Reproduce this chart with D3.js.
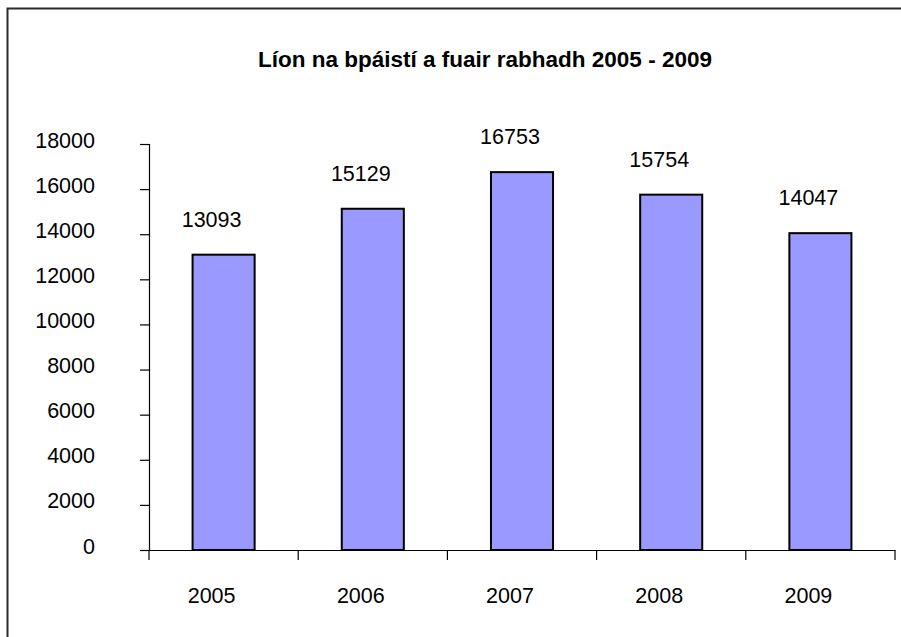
<!DOCTYPE html>
<html>
<head>
<meta charset="utf-8">
<script src="https://cdn.jsdelivr.net/npm/d3@7"></script>
<style>
  html, body { margin: 0; padding: 0; background: #fff; }
  svg { display: block; font-family: "Liberation Sans", Arial, sans-serif; }
</style>
</head>
<body>
<svg id="chart" width="901" height="637"></svg>
<script>
const titleText = "Líon na bpáistí a fuair rabhadh 2005 - 2009";
const years = ["2005", "2006", "2007", "2008", "2009"];
const values = [13093, 15129, 16753, 15754, 14047];
const yTicks = [0, 2000, 4000, 6000, 8000, 10000, 12000, 14000, 16000, 18000];

const svg = d3.select("#chart");

// outer frame (extends past the right/bottom of the picture)
svg.append("rect")
  .attr("x", 7.5).attr("y", 8.5)
  .attr("width", 1000).attr("height", 1000)
  .attr("fill", "none").attr("stroke", "#2a2a2a").attr("stroke-width", 2);

const x0 = 149, x1 = 895, yTop = 144, yBottom = 550;

const x = d3.scaleBand().domain(years).range([x0, x1])
  .paddingInner(0.584).paddingOuter(0.292);
const y = d3.scaleLinear().domain([0, 18000]).range([yBottom, yTop]);

// title
svg.append("text")
  .attr("x", 485).attr("y", 67)
  .attr("text-anchor", "middle")
  .attr("font-size", "22.5px").attr("font-weight", "bold")
  .attr("fill", "#000")
  .text(titleText);

// bars
svg.append("g").selectAll("rect").data(values).join("rect")
  .attr("x", (d, i) => x(years[i]))
  .attr("y", d => y(d))
  .attr("width", x.bandwidth())
  .attr("height", d => y(0) - y(d))
  .attr("fill", "#9999FF")
  .attr("stroke", "#000").attr("stroke-width", 2);

// value labels
svg.append("g").selectAll("text").data(values).join("text")
  .attr("x", (d, i) => x(years[i]) + x.bandwidth() / 2 - 12)
  .attr("y", d => y(d) - 28)
  .attr("text-anchor", "middle")
  .attr("font-size", "21.5px").attr("fill", "#000")
  .text(d => d);

// y axis
const yAxis = svg.append("g")
  .attr("transform", `translate(${x0},0)`)
  .call(d3.axisLeft(y).tickValues(yTicks).tickSize(9).tickPadding(45).tickFormat(d3.format("d")));
yAxis.select(".domain").attr("stroke", "#000").attr("stroke-width", 1.2);
yAxis.selectAll(".tick line").attr("stroke", "#000").attr("stroke-width", 1.2);
yAxis.selectAll(".tick text")
  .attr("font-size", "21.5px").attr("font-family", "Liberation Sans, Arial, sans-serif")
  .attr("fill", "#000").attr("dy", "3px");

// x axis
const xAxis = svg.append("g")
  .attr("transform", `translate(0,${yBottom})`)
  .call(d3.axisBottom(x).tickSize(0).tickPadding(38).tickSizeOuter(0));
xAxis.select(".domain").attr("stroke", "#000").attr("stroke-width", 1.2);
xAxis.selectAll(".tick text")
  .attr("font-size", "21.5px").attr("font-family", "Liberation Sans, Arial, sans-serif")
  .attr("fill", "#000").attr("dx", "-12px").attr("dy", "0.71em");

// category boundary ticks
const bounds = d3.range(years.length + 1).map(i => x0 + i * x.step());
xAxis.selectAll(".bound").data(bounds).join("line")
  .attr("class", "bound")
  .attr("x1", d => d).attr("x2", d => d)
  .attr("y1", 0).attr("y2", 10)
  .attr("stroke", "#000").attr("stroke-width", 1.2);
</script>
</body>
</html>
